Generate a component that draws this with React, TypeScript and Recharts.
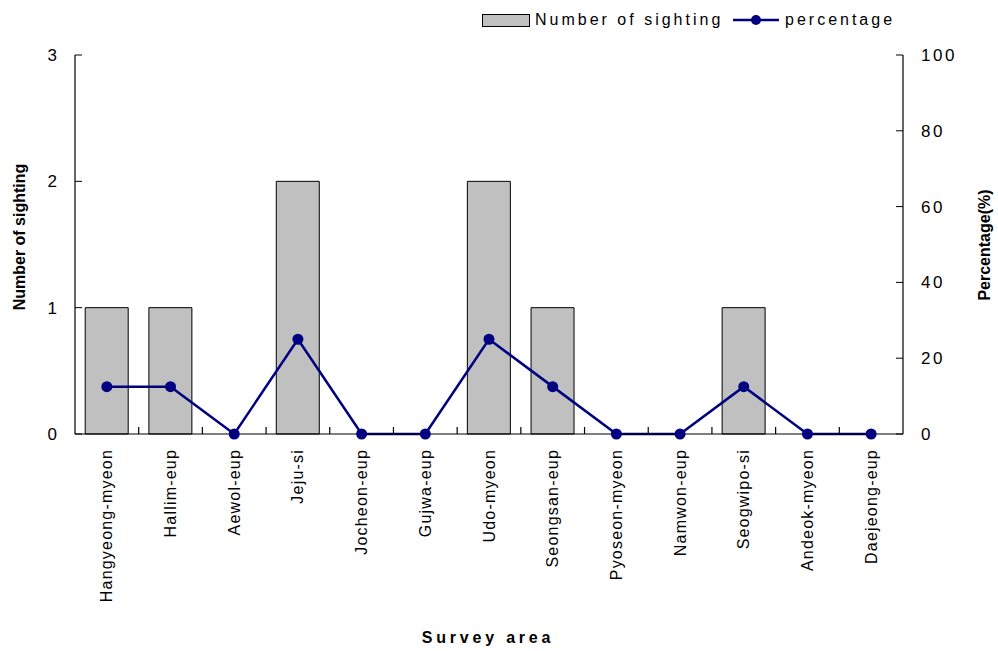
import React from "react";
import { ComposedChart, Bar, Line, XAxis, YAxis } from "recharts";

const categories = [
  "Hangyeong-myeon",
  "Hallim-eup",
  "Aewol-eup",
  "Jeju-si",
  "Jocheon-eup",
  "Gujwa-eup",
  "Udo-myeon",
  "Seongsan-eup",
  "Pyoseon-myeon",
  "Namwon-eup",
  "Seogwipo-si",
  "Andeok-myeon",
  "Daejeong-eup",
];
const sightings = [1, 1, 0, 2, 0, 0, 2, 1, 0, 0, 1, 0, 0];
const percentages = [12.5, 12.5, 0, 25, 0, 0, 25, 12.5, 0, 0, 12.5, 0, 0];
const leftTicks = [0, 1, 2, 3];
const rightTicks = [0, 20, 40, 60, 80, 100];

const data = categories.map((name, i) => ({
  name,
  sighting: sightings[i],
  percentage: percentages[i],
}));

const W = 998;
const H = 651;
const LEFT_W = 75;
const RIGHT_W = 95;
const PLOT_W = W - LEFT_W - RIGHT_W;
const FONT = "'Liberation Sans', Arial, sans-serif";
const NAVY = "#000080";

const XTick = (props: any) => {
  const { x, y, payload } = props;
  const idx = typeof props.index === "number" ? props.index : categories.indexOf(payload.value);
  const bw = PLOT_W / categories.length;
  const axisY = y - 15;
  return (
    <g>
      {idx < categories.length - 1 && (
        <line x1={x + bw / 2} x2={x + bw / 2} y1={axisY} y2={axisY - 7} stroke="#000" strokeWidth={1.2} />
      )}
      <text
        x={x}
        y={y}
        transform={`rotate(-90, ${x}, ${y})`}
        textAnchor="end"
        dominantBaseline="central"
        fontFamily={FONT}
        fontSize={16}
        letterSpacing={1.2}
        fill="#000"
      >
        {payload.value}
      </text>
    </g>
  );
};

const leftTitle = () => (
  <text
    x={19}
    y={237}
    transform="rotate(-90, 19, 237)"
    textAnchor="middle"
    dominantBaseline="central"
    fontFamily={FONT}
    fontWeight="bold"
    fontSize={16}
    fill="#000"
  >
    Number of sighting
  </text>
);

const rightTitle = () => (
  <text
    x={984}
    y={245}
    transform="rotate(-90, 984, 245)"
    textAnchor="middle"
    dominantBaseline="central"
    fontFamily={FONT}
    fontWeight="bold"
    fontSize={16}
    fill="#000"
  >
    Percentage(%)
  </text>
);

const bottomTitle = () => (
  <text
    x={488}
    y={643}
    textAnchor="middle"
    fontFamily={FONT}
    fontWeight="bold"
    fontSize={16}
    letterSpacing={3.8}
    fill="#000"
  >
    Survey area
  </text>
);

export default function App() {
  return (
    <div style={{ position: "fixed", top: 0, left: 0, width: W, height: H, background: "#fff" }}>
      <ComposedChart
        width={W}
        height={H}
        data={data}
        margin={{ top: 55, right: 0, bottom: 0, left: 0 }}
        barCategoryGap="16%"
      >
        <XAxis
          dataKey="name"
          height={217}
          interval={0}
          tickSize={0}
          tickMargin={15}
          tick={<XTick />}
          axisLine={{ stroke: "#000", strokeWidth: 1.2 }}
          label={bottomTitle}
        />
        <YAxis
          yAxisId="left"
          orientation="left"
          width={LEFT_W}
          domain={[0, 3]}
          ticks={leftTicks}
          tickSize={-7}
          tickMargin={25}
          axisLine={{ stroke: "#000", strokeWidth: 1.2 }}
          tickLine={{ stroke: "#000" }}
          tick={{ fill: "#000", fontSize: 17, fontFamily: FONT }}
          label={leftTitle}
        />
        <YAxis
          yAxisId="right"
          orientation="right"
          width={RIGHT_W}
          domain={[0, 100]}
          ticks={rightTicks}
          tickSize={-7}
          tickMargin={25}
          axisLine={{ stroke: "#000", strokeWidth: 1.2 }}
          tickLine={{ stroke: "#000" }}
          tick={{ fill: "#000", fontSize: 17, fontFamily: FONT, letterSpacing: 2.5 }}
          label={rightTitle}
        />
        <Bar
          yAxisId="left"
          dataKey="sighting"
          fill="#C0C0C0"
          stroke="#000"
          strokeWidth={1}
          isAnimationActive={false}
        />
        <Line
          yAxisId="right"
          dataKey="percentage"
          type="linear"
          stroke={NAVY}
          strokeWidth={2.5}
          dot={{ r: 5.5, fill: NAVY, stroke: NAVY, strokeWidth: 0 }}
          activeDot={false}
          isAnimationActive={false}
        />
      </ComposedChart>
      <div
        style={{
          position: "absolute",
          left: 482,
          top: 14,
          width: 48,
          height: 13,
          boxSizing: "border-box",
          background: "#C0C0C0",
          border: "1px solid #000",
        }}
      />
      <div
        style={{
          position: "absolute",
          left: 535,
          top: 12,
          fontFamily: FONT,
          fontSize: 16,
          lineHeight: "16px",
          letterSpacing: 3,
          whiteSpace: "nowrap",
          color: "#000",
        }}
      >
        Number of sighting
      </div>
      <svg style={{ position: "absolute", left: 733, top: 14 }} width={46} height={12}>
        <line x1={0} x2={46} y1={6} y2={6} stroke={NAVY} strokeWidth={2.5} />
        <circle cx={23} cy={6} r={5} fill={NAVY} />
      </svg>
      <div
        style={{
          position: "absolute",
          left: 785,
          top: 12,
          fontFamily: FONT,
          fontSize: 16,
          lineHeight: "16px",
          letterSpacing: 3,
          whiteSpace: "nowrap",
          color: "#000",
        }}
      >
        percentage
      </div>
    </div>
  );
}
